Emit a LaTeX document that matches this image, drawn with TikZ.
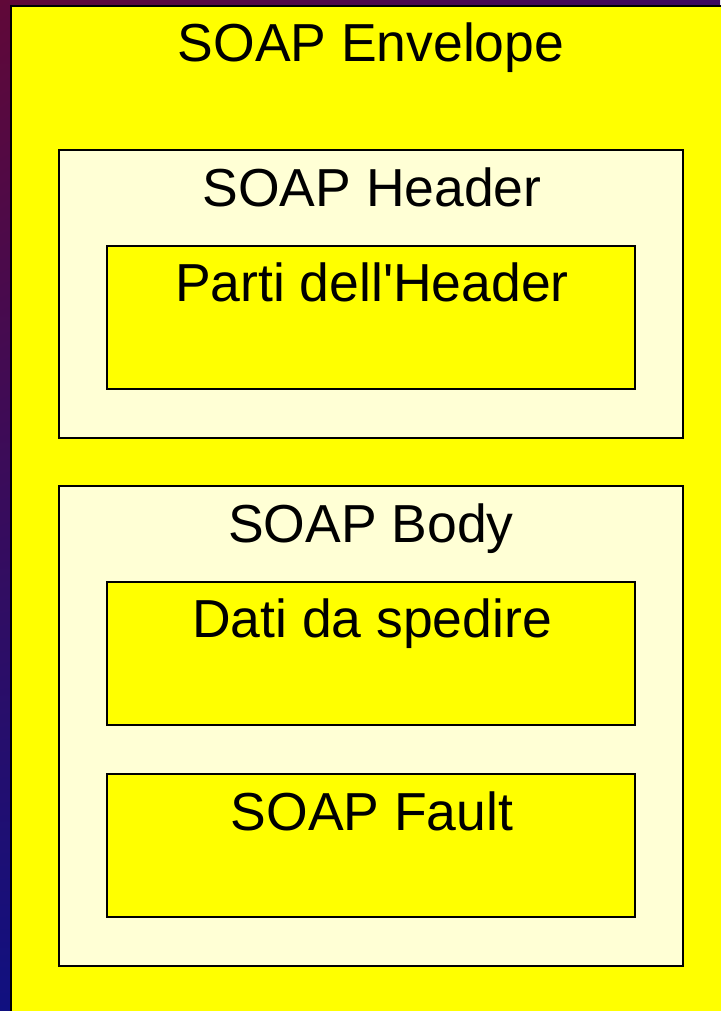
\documentclass[tikz,border=0pt]{standalone}
\usepackage{fontspec}
\setmainfont{Liberation Sans}
\usetikzlibrary{shadings}
\definecolor{envyellow}{RGB}{255,255,0}
\definecolor{paleyellow}{RGB}{255,255,213}
\definecolor{bgred}{RGB}{96,8,56}
\definecolor{bgpurple}{RGB}{60,8,96}
\definecolor{bgblue}{RGB}{16,16,128}
\begin{document}
\begin{tikzpicture}[x=1pt,y=-1pt,
  outerbox/.style={draw=black,line width=1.3pt,fill=paleyellow},
  innerbox/.style={draw=black,line width=1.3pt,fill=envyellow},
  lbl/.style={font=\fontsize{53.5}{60}\selectfont,anchor=base,inner sep=0pt}]
\useasboundingbox (0,0) rectangle (720,1011);
\shade[upper left=bgred, lower left=bgblue, upper right=bgpurple, lower right=bgblue]
  (0,0) rectangle (720,1011);
\draw[fill=envyellow,line width=2.2pt] (11,6) rectangle (730,1020);
% boxes
\draw[outerbox] (59,150) rectangle (683,438);
\draw[innerbox] (107,246) rectangle (635,389);
\draw[outerbox] (59,486) rectangle (683,966);
\draw[innerbox] (107,582) rectangle (635,725);
\draw[innerbox] (107,774) rectangle (635,917);
% labels
\node[lbl] (env) at (371,62) {SOAP Envelope};
\node[lbl] (hdr) at (372,206) {SOAP Header};
\node[lbl] (hparts) at (372,301) {Parti dell\textquotesingle Header};
\node[lbl] (body) at (371,542) {SOAP Body};
\node[lbl] (data) at (372,637) {Dati da spedire};
\node[lbl] (fault) at (372,830) {SOAP Fault};
\end{tikzpicture}
\end{document}
